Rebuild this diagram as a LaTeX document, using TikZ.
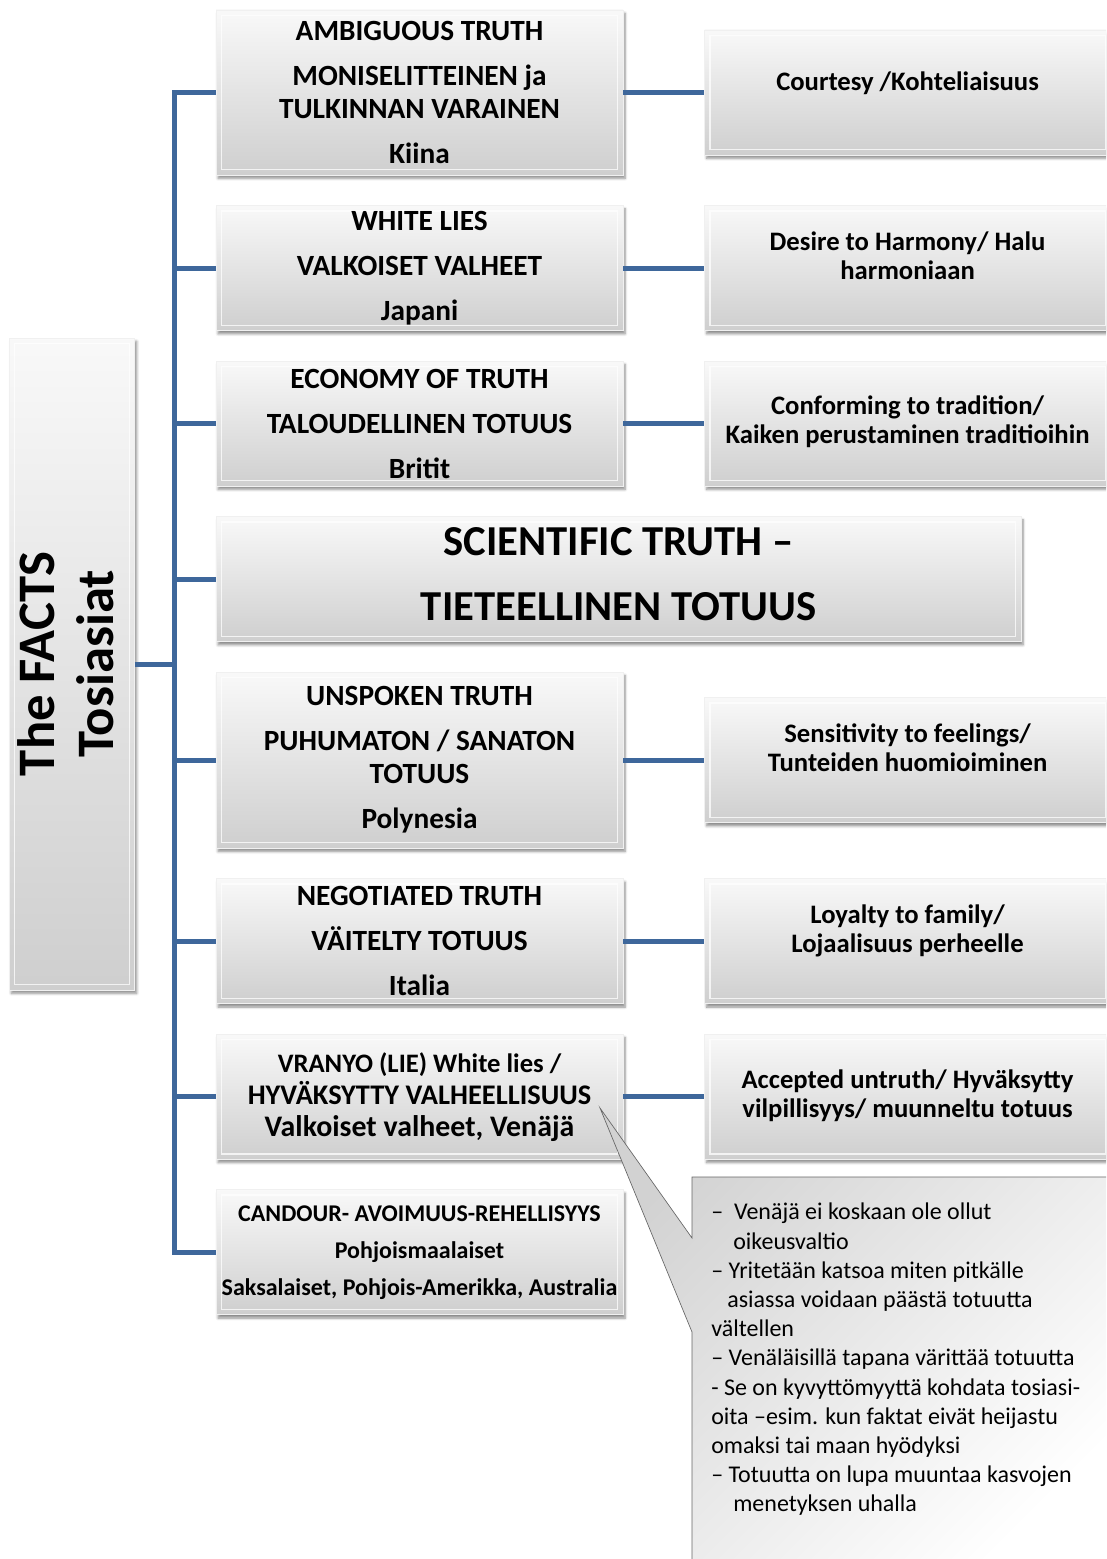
\documentclass[tikz,border=0pt]{standalone}
\usepackage{fontspec}
\setmainfont{Carlito}
\usetikzlibrary{positioning,shadows.blur}

\definecolor{linkblue}{RGB}{62,103,155}
% raise text inside a box without changing its size
\newcommand{\liftup}[2]{\raisebox{#1}[\height][\depth]{\begin{tabular}{@{}c@{}}#2\end{tabular}}}

\tikzset{
  bevel/.style={rectangle, shading=axis, top color=gray!5, bottom color=gray!38,
    draw=gray!12, line width=0.4pt, inner sep=2pt, align=center,
    blur shadow={shadow xshift=1.5pt, shadow yshift=-2.5pt, shadow blur steps=6, shadow opacity=45},
    path picture={\draw[white, line width=1pt, opacity=.75]
      ([shift={(4pt,-4pt)}]path picture bounding box.north west) rectangle
      ([shift={(-4pt,4pt)}]path picture bounding box.south east);}},
  midbox/.style={bevel, minimum width=305.25pt, minimum height=93.75pt,
    font=\bfseries\fontsize{22}{24.75}\selectfont},
  sidebox/.style={bevel, minimum width=304.5pt, minimum height=93.75pt,
    font=\bfseries\fontsize{20}{21.75}\selectfont},
  link/.style={draw=linkblue, line width=3.75pt},
  callout/.style={draw=gray!80!black, line width=0.5pt, shading=axis,
    top color=gray!35, bottom color=white, shading angle=45},
}

\begin{document}
\begin{tikzpicture}[x=0.75pt, y=-0.75pt]
  \useasboundingbox (0,0) rectangle (1106,1559);
  \clip (0,0) rectangle (1106,1559);

  % root
  \node[bevel, minimum width=93.75pt, minimum height=489pt] (facts) at (72,664)
    {\rotatebox{90}{\bfseries\fontsize{39.5}{45}\selectfont\begin{tabular}{@{}c@{}}The FACTS\\Tosiasiat\end{tabular}}};

  % truth types
  \node[midbox, minimum height=123.75pt] (m1) at (419.5,92.5)
    {AMBIGUOUS TRUTH\\[9pt]MONISELITTEINEN ja\\TULKINNAN VARAINEN\\[9pt]Kiina};
  \node[midbox] (m2) [below=22.5pt of m1] {WHITE LIES\\[9pt]VALKOISET VALHEET\\[9pt]Japani};
  \node[midbox] (m3) [below=22.5pt of m2] {ECONOMY OF TRUTH\\[9pt]TALOUDELLINEN TOTUUS\\[9pt]Britit};
  \node[midbox, minimum width=603.75pt, font=\bfseries\fontsize{32}{40}\selectfont] (sci)
    [below=22.5pt of m3.south west, anchor=north west] {\liftup{1.5pt}{SCIENTIFIC TRUTH --\\[8.75pt]TIETEELLINEN TOTUUS}};
  \node[midbox, minimum height=132pt] (m5) [below=22.5pt of sci.south west, anchor=north west]
    {UNSPOKEN TRUTH\\[9pt]PUHUMATON / SANATON\\TOTUUS\\[9pt]Polynesia};
  \node[midbox] (m6) [below=22.5pt of m5] {NEGOTIATED TRUTH\\[9pt]VÄITELTY TOTUUS\\[9pt]Italia};
  \node[midbox, font=\bfseries\fontsize{20}{24}\selectfont] (m7) [below=22.5pt of m6]
    {VRANYO (LIE) White lies /\\{\fontsize{21.3}{24}\selectfont HYVÄKSYTTY VALHEELLISUUS}\\
     {\fontsize{22.4}{24}\selectfont Valkoiset valheet, Venäjä}};
  \node[midbox, font=\bfseries\fontsize{18}{27.75}\selectfont] (m8) [below=22.5pt of m7]
    {CANDOUR- AVOIMUUS-REHELLISYYS\\Pohjoismaalaiset\\Saksalaiset, Pohjois-Amerikka, Australia};

  % motives
  \node[sidebox] (r1) [right=60.75pt of m1] {\liftup{5.5pt}{Courtesy /Kohteliaisuus}};
  \node[sidebox] (r2) [right=60.75pt of m2] {\liftup{7pt}{Desire to Harmony/ Halu\\harmoniaan}};
  \node[sidebox] (r3) [right=60.75pt of m3] {\liftup{0pt}{Conforming to tradition/\\Kaiken perustaminen traditioihin}};
  \node[sidebox] (r5) [right=60.75pt of m5] {\liftup{7pt}{Sensitivity to feelings/\\Tunteiden huomioiminen}};
  \node[sidebox] (r6) [right=60.75pt of m6] {\liftup{7pt}{Loyalty to family/\\Lojaalisuus perheelle}};
  \node[sidebox] (r7) [right=60.75pt of m7] {\liftup{0pt}{Accepted untruth/ Hyväksytty\\vilpillisyys/ muunneltu totuus}};

  % connectors
  \draw[link] (facts.east) -- ++(40,0) coordinate (hub);
  \draw[link] (m1.west) -| (hub) |- (m8.west);
  \foreach \m in {m2,m3,sci,m5,m6,m7}
    \draw[link] (hub |- \m.west) -- (\m.west);
  \foreach \m/\r in {m1/r1,m2/r2,m3/r3,m5/r5,m6/r6,m7/r7}
    \draw[link] (\m.east) -- (\r.west);

  % callout on Russia
  \coordinate (tip) at (600,1108);
  \draw[callout] (692,1177) -| (1120,1575) -| (692,1332) -- (tip) -- (692,1238) -- cycle;
  \node[anchor=north west, align=left, inner sep=0pt, font=\fontsize{18}{21.9}\selectfont] (note) at (711,1203)
    {--\ \ Venäjä ei koskaan ole ollut\\
     \hspace*{16.5pt}oikeusvaltio\\
     -- Yritetään katsoa miten pitkälle\\
     \hspace*{12pt}asiassa voidaan päästä totuutta\\
     vältellen\\
     -- Venäläisillä tapana värittää totuutta\\
     - Se on kyvyttömyyttä kohdata tosiasi-\\
     oita --esim. kun faktat eivät heijastu\\
     omaksi tai maan hyödyksi\\
     -- Totuutta on lupa muuntaa kasvojen\\
     \hspace*{16.5pt}menetyksen uhalla};
\end{tikzpicture}
\end{document}
